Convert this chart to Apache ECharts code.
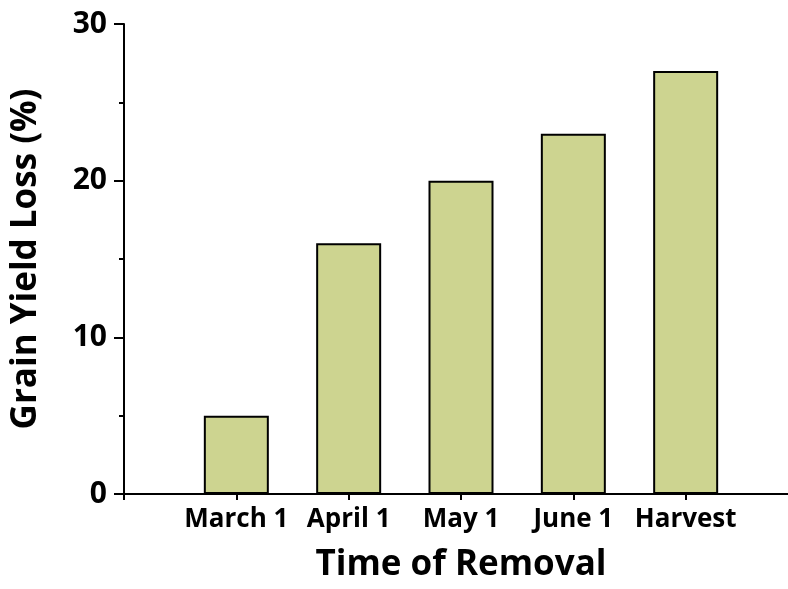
<!DOCTYPE html>
<html>
<head>
<meta charset="utf-8">
<script src="https://cdn.jsdelivr.net/npm/echarts@6/dist/echarts.min.js"></script>
<style>html,body{margin:0;padding:0;background:#fff;overflow:hidden}#c{width:788px;height:589px}</style>
</head>
<body>
<div id="c"></div>
<script>
const categories = ['', 'March 1', 'April 1', 'May 1', 'June 1', 'Harvest', ''];
const values = [null, 5, 16, 20, 23, 27, null];
const yTicks = [0, 10, 20, 30];

const chart = echarts.init(document.getElementById('c'), null, {renderer: 'canvas'});
const font = '"Open Sans", "DejaVu Sans", sans-serif';
chart.setOption({
  animation: false,
  grid: {left: 124, top: 24, width: 674, height: 470, outerBoundsMode: 'none', containLabel: false},
  xAxis: {
    type: 'category',
    data: categories,
    boundaryGap: false,
    name: 'Time of Removal',
    nameLocation: 'middle',
    nameGap: 54,
    nameTextStyle: {fontFamily: font, fontWeight: 'bold', fontSize: 35, color: '#000'},
    axisLine: {lineStyle: {color: '#000', width: 2}},
    axisTick: {length: 6, lineStyle: {color: '#000', width: 2}},
    axisLabel: {interval: 0, margin: 13, fontFamily: font, fontWeight: 'bold', fontSize: 26, color: '#000'},
    splitLine: {show: false}
  },
  yAxis: {
    type: 'value',
    min: yTicks[0],
    max: yTicks[yTicks.length - 1],
    interval: 10,
    name: 'Grain Yield Loss (%)',
    nameLocation: 'middle',
    nameGap: 80,
    nameTextStyle: {fontFamily: font, fontWeight: 'bold', fontSize: 35, color: '#000'},
    axisLine: {show: true, lineStyle: {color: '#000', width: 2}},
    axisTick: {show: true, length: 10, lineStyle: {color: '#000', width: 2}},
    minorTick: {show: true, splitNumber: 2, length: 5, lineStyle: {color: '#000', width: 2}},
    axisLabel: {margin: 17, fontFamily: font, fontWeight: 'bold', fontSize: 30, color: '#000'},
    splitLine: {show: false}
  },
  series: [{
    type: 'bar',
    data: values,
    barWidth: 65,
    itemStyle: {color: '#cdd490', borderColor: '#000', borderWidth: 2}
  }]
});
</script>
</body>
</html>
